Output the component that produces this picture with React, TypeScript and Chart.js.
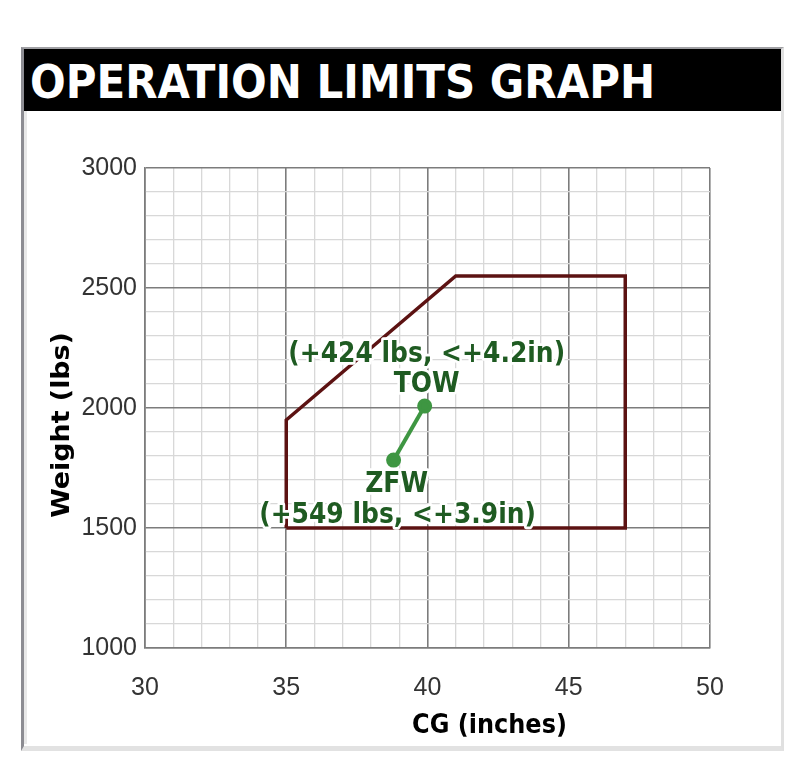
import React, { useEffect, useRef } from "react";
import { Chart, registerables } from "chart.js";

Chart.register(...registerables);

// ---- data ----
const envelopeCG: number[] = [35, 35, 41.0, 47.0, 47.0, 35];
const envelopeWeight: number[] = [1500, 1950, 2550, 2550, 1500, 1500];

const loadingNames: string[] = ["ZFW", "TOW"];
const loadingCG: number[] = [38.8, 39.9];
const loadingWeight: number[] = [1783, 2008];
const loadingNotes: string[] = ["(+549 lbs, <+3.9in)", "(+424 lbs, <+4.2in)"];

const xMin = 30, xMax = 50, xMajor = 5, xMinor = 1;
const yMin = 1000, yMax = 3000, yMajor = 500, yMinor = 100;

const titleText = "OPERATION LIMITS GRAPH";
const xTitle = "CG (inches)";
const yTitle = "Weight (lbs)";

const MAJOR = "#7c7c7c";
const MINOR = "#d8d8d8";
const ENVELOPE = "#5c1212";
const LOAD_LINE = "#3e9642";
const LABEL_GREEN = "#1f5b22";

const labelPlugin = {
  id: "loadLabels",
  afterDatasetsDraw(chart: any) {
    const { ctx, chartArea } = chart;
    const xs = chart.scales.x;
    const ys = chart.scales.y;
    ctx.save();
    ctx.textAlign = "center";
    ctx.textBaseline = "middle";
    ctx.lineJoin = "round";
    ctx.font = "bold 25px 'DejaVu Sans', Verdana, sans-serif";
    const drawTxt = (t: string, x: number, y: number) => {
      ctx.save();
      ctx.translate(x, y);
      ctx.scale(1, 1.1);
      ctx.strokeStyle = "#ffffff";
      ctx.lineWidth = 5;
      ctx.strokeText(t, 0, 0);
      ctx.fillStyle = LABEL_GREEN;
      ctx.fillText(t, 0, 0);
      ctx.restore();
    };
    loadingNames.forEach((name, i) => {
      const px = xs.getPixelForValue(loadingCG[i]);
      const py = ys.getPixelForValue(loadingWeight[i]);
      if (name === "TOW") {
        drawTxt(name, px + 2, py - 21);
        drawTxt(loadingNotes[i], px + 2, py - 51);
      } else {
        drawTxt(name, px + 3, py + 25);
        drawTxt(loadingNotes[i], px + 4, py + 56);
      }
    });
    // axis titles
    ctx.fillStyle = "#000000";
    ctx.font = "bold 24px 'DejaVu Sans', Verdana, sans-serif";
    ctx.save();
    ctx.translate((chartArea.left + chartArea.right) / 2 + 62, chartArea.bottom + 78);
    ctx.scale(1, 1.1);
    ctx.fillText(xTitle, 0, 0);
    ctx.restore();
    ctx.save();
    ctx.translate(39, (chartArea.top + chartArea.bottom) / 2 + 17);
    ctx.rotate(-Math.PI / 2);
    ctx.scale(1.12, 1);
    ctx.fillText(yTitle, 0, 0);
    ctx.restore();
    ctx.restore();
  },
};

function OperationChart() {
  const ref = useRef<HTMLCanvasElement | null>(null);
  useEffect(() => {
    if (!ref.current) return;
    const chart = new Chart(ref.current, {
      type: "scatter",
      data: {
        datasets: [
          {
            label: "Envelope",
            data: envelopeCG.map((x, i) => ({ x, y: envelopeWeight[i] })),
            showLine: true,
            borderColor: ENVELOPE,
            borderWidth: 3.5,
            pointRadius: 0,
            fill: false,
            tension: 0,
          },
          {
            label: "Loading",
            data: loadingCG.map((x, i) => ({ x, y: loadingWeight[i] })),
            showLine: true,
            borderColor: LOAD_LINE,
            backgroundColor: LOAD_LINE,
            borderWidth: 4,
            pointRadius: 5.5,
            pointBackgroundColor: LOAD_LINE,
            pointBorderColor: LOAD_LINE,
            fill: false,
          },
        ],
      },
      options: {
        animation: false,
        responsive: false,
        maintainAspectRatio: false,
        layout: { padding: { left: 0, top: 56, right: 70, bottom: 0 } },
        plugins: {
          legend: { display: false },
          tooltip: { enabled: false },
          title: { display: false },
        },
        scales: {
          x: {
            type: "linear",
            min: xMin,
            max: xMax,
            afterFit: (s: any) => { s.height = 100; },
            ticks: {
              stepSize: xMinor,
              autoSkip: false,
              maxRotation: 0,
              padding: 25,
              color: "#333333",
              font: { family: "'Liberation Sans', Arial, sans-serif", size: 25 },
              callback: (v: any) => (Number(v) % xMajor === 0 ? String(v) : ""),
            },
            grid: {
              drawTicks: false,
              color: (c: any) => (c.tick && c.tick.value % xMajor === 0 ? MAJOR : MINOR),
              lineWidth: (c: any) => (c.tick && c.tick.value % xMajor === 0 ? 1.6 : 1.3),
            },
            border: { display: true, color: MAJOR, width: 1.6 },
          },
          y: {
            type: "linear",
            min: yMin,
            max: yMax,
            afterFit: (s: any) => { s.width = 121; },
            ticks: {
              stepSize: yMinor,
              autoSkip: false,
              padding: 8,
              color: "#333333",
              font: { family: "'Liberation Sans', Arial, sans-serif", size: 25 },
              callback: (v: any) => (Number(v) % yMajor === 0 ? String(v) : ""),
            },
            grid: {
              drawTicks: false,
              color: (c: any) => (c.tick && c.tick.value % yMajor === 0 ? MAJOR : MINOR),
              lineWidth: (c: any) => (c.tick && c.tick.value % yMajor === 0 ? 1.6 : 1.3),
            },
            border: { display: true, color: MAJOR, width: 1.6 },
          },
        },
      },
      plugins: [labelPlugin],
    });
    return () => chart.destroy();
  }, []);
  return <canvas ref={ref} width={756} height={636} style={{ width: 756, height: 636, display: "block" }} />;
}

export default function App() {
  return (
    <div style={{ position: "fixed", left: 0, top: 0, width: 800, height: 772, background: "#ffffff", overflow: "hidden" }}>
      {/* panel frame */}
      <div
        style={{
          position: "absolute",
          left: 21,
          top: 47,
          width: 757,
          height: 697,
          borderLeft: "3px solid #8c8c92",
          borderTop: "2px solid #a0a0a4",
          borderRight: "3px solid #e0e0e0",
          borderBottom: "5px solid #e2e2e2",
          boxSizing: "content-box",
        }}
      />
      <div style={{ position: "absolute", left: 24, top: 110, width: 3, height: 634, background: "#e8e8e8" }} />
      {/* header */}
      <div
        style={{
          position: "absolute",
          left: 24,
          top: 49,
          width: 757,
          height: 62,
          background: "#000000",
          color: "#ffffff",
          fontFamily: "'DejaVu Sans', Verdana, sans-serif",
          fontWeight: "bold",
          fontSize: 42,
          lineHeight: "62px",
          whiteSpace: "nowrap",
        }}
      >
        <span style={{ display: "inline-block", marginLeft: 6, marginTop: 3, transform: "scaleY(1.08)", transformOrigin: "50% 50%" }}>{titleText}</span>
      </div>
      <div style={{ position: "absolute", left: 24, top: 112 }}>
        <OperationChart />
      </div>
    </div>
  );
}
